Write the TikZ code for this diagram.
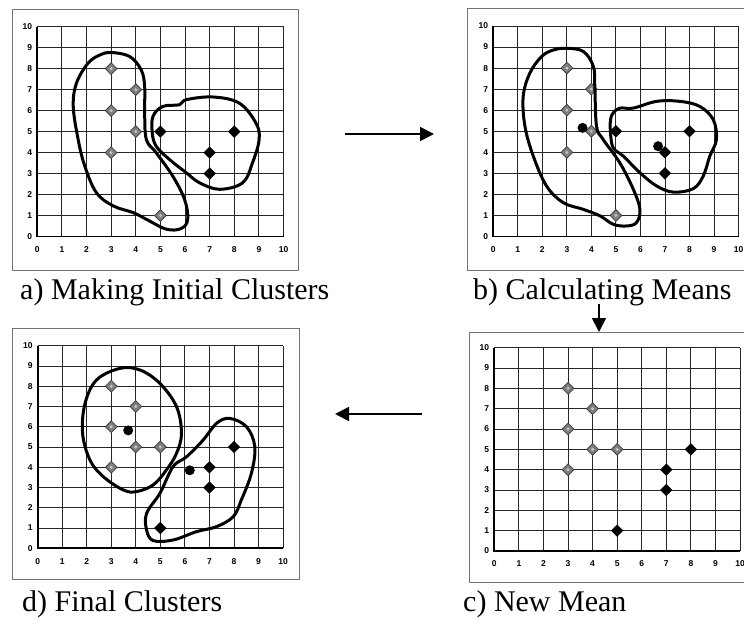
\documentclass[tikz,border=0pt]{standalone}
\usepackage{fontspec}
\setmainfont{Liberation Serif}
\newfontfamily\tickfont{Liberation Sans}
\usetikzlibrary{shapes.geometric,arrows.meta}
\tikzset{
  gridl/.style={black!85, line width=0.85pt},
  axisl/.style={black, line width=1.7pt},
  ticklab/.style={font=\tickfont\bfseries\fontsize{8.5}{9}\selectfont, inner sep=0pt},
  panelframe/.style={draw=black!55, line width=0.6pt, inner sep=0pt, outer sep=0pt},
  gdia/.style={diamond, draw=black!75, line width=0.8pt, fill=gray, minimum width=12pt, minimum height=12pt, inner sep=0pt,
    path picture={\fill[gray!45] (path picture bounding box.center) circle (1.6pt);}},
  bdia/.style={diamond, fill=black, minimum width=12.5pt, minimum height=12.5pt, inner sep=0pt},
  meanpt/.style={circle, fill=black, minimum size=10pt, inner sep=0pt},
  clus/.style={line width=3pt, black, line join=round},
  captext/.style={font=\fontsize{30}{34}\selectfont, inner sep=0pt, anchor=base west},
  arrline/.style={line width=1.8pt, -{Triangle[length=14pt,width=14pt]}},
}
\newcommand{\panelgrid}[1]{%
  \foreach \i in {0,...,10} {
    \draw[gridl] (\i,0) -- (\i,10);
    \draw[gridl] (0,\i) -- (10,\i);
    \node[ticklab, anchor=east, xshift=-5pt] (#1y\i) at (0,\i) {\i};
    \node[ticklab, yshift=-13pt] (#1x\i) at (\i,0) {\i};
  }
  \draw[axisl] (0,10) -- (0,0) -- (10,0);
}
\begin{document}
\begin{tikzpicture}[x=1pt,y=-1pt]
\useasboundingbox (0,0) rectangle (744,620);
\clip (0,0) rectangle (744,620);
\fill[white] (0,0) rectangle (744,620);

% frames
\node[panelframe, minimum width=286pt, minimum height=261pt] (fa) at (155,139.5) {};
\node[panelframe, minimum width=303pt, minimum height=262pt] (fb) at (618.5,139) {};
\node[panelframe, minimum width=287pt, minimum height=251pt] (fd) at (155.5,453.5) {};
\node[panelframe, minimum width=301pt, minimum height=250pt] (fc) at (619.5,457) {};

% panel a
\begin{scope}[shift={(37.3pt,-236.5pt)}, x=24.62pt, y=20.98pt]
  \panelgrid{a}
  \node[gdia] (a1) at (3,8) {};
  \node[gdia] (a2) at (4,7) {};
  \node[gdia] (a3) at (3,6) {};
  \node[gdia] (a4) at (4,5) {};
  \node[gdia] (a5) at (3,4) {};
  \node[gdia] (a6) at (5,1) {};
  \node[bdia] (a7) at (5,5) {};
  \node[bdia] (a8) at (8,5) {};
  \node[bdia] (a9) at (7,4) {};
  \node[bdia] (a10) at (7,3) {};
  \draw[clus] plot[smooth cycle, tension=0.6] coordinates {(3.0,8.77) (3.75,8.58) (4.22,7.94) (4.36,7.15) (4.36,5.89) (4.43,4.62) (4.83,3.99) (5.5,2.88) (5.98,1.77) (6.11,0.82) (5.84,0.38) (5.24,0.35) (4.43,0.82) (3.89,1.14) (3.08,1.46) (2.40,2.09) (1.93,3.35) (1.66,4.62) (1.46,6.2) (1.59,7.31) (2.06,8.26) (2.54,8.65)};
  \draw[clus] plot[smooth cycle, tension=0.6] coordinates {(4.70,5.73) (5.10,6.2) (5.78,6.28) (6.05,6.52) (7.13,6.65) (8.2,6.36) (8.88,5.41) (9.01,4.62) (8.74,3.51) (8.34,2.56) (7.40,2.25) (6.59,2.56) (6.05,3.04) (5.37,3.67) (4.83,4.30) (4.67,4.94)};
\end{scope}

% panel b
\begin{scope}[shift={(493.3pt,-236.5pt)}, x=24.52pt, y=21.05pt]
  \panelgrid{b}
  \node[gdia] (b1) at (3,8) {};
  \node[gdia] (b2) at (4,7) {};
  \node[gdia] (b3) at (3,6) {};
  \node[gdia] (b4) at (4,5) {};
  \node[gdia] (b5) at (3,4) {};
  \node[gdia] (b6) at (5,1) {};
  \node[bdia] (b7) at (5,5) {};
  \node[bdia] (b8) at (8,5) {};
  \node[bdia] (b9) at (7,4) {};
  \node[bdia] (b10) at (7,3) {};
  \node[meanpt] (bm1) at (3.64,5.16) {};
  \node[meanpt] (bm2) at (6.72,4.29) {};
  \draw[clus] plot[smooth cycle, tension=0.6] coordinates {(2.99,8.94) (3.67,8.79) (4.08,8.08) (4.14,7.13) (4.21,5.24) (4.48,4.61) (5.16,3.5) (5.71,2.24) (5.98,1.29) (5.84,0.66) (5.43,0.5) (4.89,0.58) (4.35,0.98) (3.67,1.29) (2.85,1.61) (2.17,2.40) (1.63,3.82) (1.29,5.24) (1.22,6.66) (1.49,7.76) (1.97,8.55) (2.45,8.86)};
  \draw[clus] plot[smooth cycle, tension=0.6] coordinates {(4.89,5.87) (5.16,6.10) (5.71,6.10) (6.66,6.42) (7.61,6.42) (8.42,6.18) (8.97,5.55) (9.1,4.61) (8.83,3.82) (8.56,2.87) (8.15,2.27) (7.34,2.11) (6.66,2.40) (5.98,3.03) (5.30,3.82) (4.89,4.21) (4.78,4.92) (4.78,5.55)};
\end{scope}

% panel d
\begin{scope}[shift={(37.7pt,-548.3pt)}, x=24.53pt, y=20.26pt]
  \panelgrid{d}
  \node[gdia] (d1) at (3,8) {};
  \node[gdia] (d2) at (4,7) {};
  \node[gdia] (d3) at (3,6) {};
  \node[gdia] (d4) at (4,5) {};
  \node[gdia] (d5) at (5,5) {};
  \node[gdia] (d6) at (3,4) {};
  \node[bdia] (d7) at (8,5) {};
  \node[bdia] (d8) at (7,4) {};
  \node[bdia] (d9) at (7,3) {};
  \node[bdia] (d10) at (5,1) {};
  \node[meanpt] (dm1) at (3.69,5.82) {};
  \node[meanpt] (dm2) at (6.2,3.85) {};
  \draw[clus] plot[smooth cycle, tension=0.6] coordinates {(3.35,8.88) (4.17,8.80) (4.98,8.14) (5.66,6.99) (5.86,5.67) (5.66,4.69) (5.25,3.87) (4.71,3.13) (4.03,2.80) (3.49,2.88) (2.67,3.54) (2.13,4.36) (1.83,5.67) (1.93,7.15) (2.40,8.31)};
  \draw[clus] plot[smooth cycle, tension=0.6] coordinates {(7.83,6.41) (8.51,6.0) (8.85,5.02) (8.71,3.70) (8.30,2.38) (7.97,1.56) (7.29,1.07) (6.47,0.82) (5.52,0.41) (4.71,0.38) (4.44,0.90) (4.44,1.73) (4.98,2.71) (5.52,4.03) (6.07,4.52) (6.75,5.35) (7.29,6.17)};
\end{scope}

% panel c
\begin{scope}[shift={(494.3pt,-551pt)}, x=24.57pt, y=20.33pt]
  \panelgrid{c}
  \node[gdia] (c1) at (3,8) {};
  \node[gdia] (c2) at (4,7) {};
  \node[gdia] (c3) at (3,6) {};
  \node[gdia] (c4) at (4,5) {};
  \node[gdia] (c5) at (5,5) {};
  \node[gdia] (c6) at (3,4) {};
  \node[bdia] (c7) at (8,5) {};
  \node[bdia] (c8) at (7,4) {};
  \node[bdia] (c9) at (7,3) {};
  \node[bdia] (c10) at (5,1) {};
\end{scope}

% captions
\node[captext] (capa) at (20,300) {a) Making Initial Clusters};
\node[captext] (capb) at (473,299) {b) Calculating Means};
\node[captext] (capd) at (22,611) {d) Final Clusters};
\node[captext] (capc) at (463,611) {c) New Mean};

% arrows
\coordinate (ab1) at (345,134);
\coordinate (ab2) at (434,134);
\draw[arrline] (ab1) -- (ab2);
\coordinate (bc1) at (599,304);
\draw[arrline] (bc1) -- (bc1 |- fc.north);
\coordinate (dc1) at (422,414);
\coordinate (dc2) at (335,414);
\draw[arrline] (dc1) -- (dc2);
\end{tikzpicture}
\end{document}
